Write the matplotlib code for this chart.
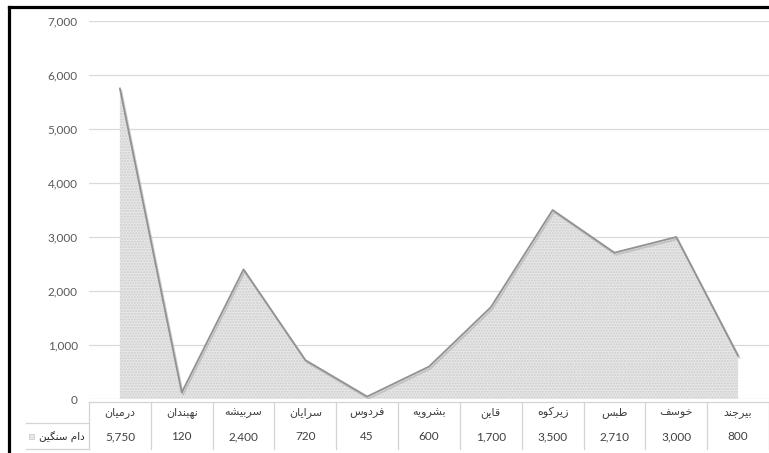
import matplotlib.pyplot as plt
import matplotlib.patheffects as pe
from matplotlib.lines import Line2D
from matplotlib.patches import Rectangle
from matplotlib.ticker import FuncFormatter

plt.rcParams['font.family'] = ['Lato', 'DejaVu Sans']

series_name = "دام سنگین"
categories = ["درمیان", "نهبندان", "سربیشه", "سرایان", "فردوس", "بشرویه",
              "قاین", "زیرکوه", "طبس", "خوسف", "بیرجند"]
values = [5750, 120, 2400, 720, 45, 600, 1700, 3500, 2710, 3000, 800]
y_ticks = [0, 1000, 2000, 3000, 4000, 5000, 6000, 7000]

# presentation forms: isolated, final, initial, medial
FORMS = {
    "ا": ("\uFE8D", "\uFE8E"),
    "ب": ("\uFE8F", "\uFE90", "\uFE91", "\uFE92"),
    "ج": ("\uFE9D", "\uFE9E", "\uFE9F", "\uFEA0"),
    "خ": ("\uFEA5", "\uFEA6", "\uFEA7", "\uFEA8"),
    "د": ("\uFEA9", "\uFEAA"),
    "ر": ("\uFEAD", "\uFEAE"),
    "ز": ("\uFEAF", "\uFEB0"),
    "س": ("\uFEB1", "\uFEB2", "\uFEB3", "\uFEB4"),
    "ش": ("\uFEB5", "\uFEB6", "\uFEB7", "\uFEB8"),
    "ط": ("\uFEC1", "\uFEC2", "\uFEC3", "\uFEC4"),
    "ف": ("\uFED1", "\uFED2", "\uFED3", "\uFED4"),
    "ق": ("\uFED5", "\uFED6", "\uFED7", "\uFED8"),
    "ک": ("\uFB8E", "\uFB8F", "\uFB90", "\uFB91"),
    "گ": ("\uFB92", "\uFB93", "\uFB94", "\uFB95"),
    "م": ("\uFEE1", "\uFEE2", "\uFEE3", "\uFEE4"),
    "ن": ("\uFEE5", "\uFEE6", "\uFEE7", "\uFEE8"),
    "ه": ("\uFEE9", "\uFEEA", "\uFEEB", "\uFEEC"),
    "و": ("\uFEED", "\uFEEE"),
    "ی": ("\uFBFC", "\uFBFD", "\uFBFE", "\uFBFF"),
}


def shape(text):
    # matplotlib has no arabic shaping, so pick joined forms and reverse
    out = []
    n = len(text)
    for i, ch in enumerate(text):
        forms = FORMS.get(ch)
        if forms is None:
            out.append(ch)
            continue
        prev_joins = i > 0 and len(FORMS.get(text[i - 1], ())) == 4
        next_joins = i < n - 1 and text[i + 1] in FORMS and len(forms) == 4
        if prev_joins and next_joins:
            out.append(forms[3])
        elif prev_joins:
            out.append(forms[1])
        elif next_joins:
            out.append(forms[2])
        else:
            out.append(forms[0])
    return "".join(reversed(out))


W, H = 769, 453
fig = plt.figure(figsize=(W / 100, H / 100), dpi=100)

left, right = 89, 769
y0, y7 = 399, 21
ax = fig.add_axes([left / W, 1 - y0 / H, (right - left) / W, (y0 - y7) / H])
x = list(range(len(categories)))

ax.fill_between(x, values, 0, facecolor="#e7e7e7", edgecolor="#cdcdcd",
                hatch="......", linewidth=0, zorder=2)
ax.plot(x, values, color="#929292", lw=1.3, zorder=3,
        path_effects=[pe.SimpleLineShadow(offset=(1, -1.5), shadow_color="#b0b0b0", alpha=0.6),
                      pe.Normal()])

ax.set_xlim(-0.5, len(categories) - 0.5)
ax.set_ylim(0, 7000)
ax.set_yticks(y_ticks)
ax.yaxis.set_major_formatter(FuncFormatter(lambda v, p: f"{int(v):,}"))
ax.tick_params(axis="y", length=0, pad=8, labelsize=8.5, labelcolor="#595959")
ax.set_xticks([])
ax.grid(axis="y", color="#dadada", lw=0.9, zorder=0)
for s in ax.spines.values():
    s.set_visible(False)

# data table under the plot
tab = fig.add_axes([left / W, 0, (right - left) / W, (H - y0) / H], sharex=ax)
tab.set_ylim(H, y0)
tab.axis("off")
row_top, row_mid, row_bot = 402, 423, 449
line_kw = dict(color="#d4d4d4", lw=0.9, clip_on=False)
tab.plot([-0.5, len(categories) - 0.5], [row_top, row_top], **line_kw)
for k in range(len(categories) + 1):
    tab.plot([k - 0.5, k - 0.5], [row_top, row_bot], **line_kw)
for i, (cat, val) in enumerate(zip(categories, values)):
    tab.text(i, (row_top + row_mid) / 2, shape(cat), ha="center", va="center",
             fontsize=8, color="#404040", family="DejaVu Sans")
    tab.text(i, (row_mid + row_bot) / 2 + 1, f"{val:,}", ha="center", va="center",
             fontsize=8.5, color="#404040")

# left header column of the table, in figure pixels
for yy in (row_mid, row_bot):
    fig.add_artist(Line2D([26 / W, left / W], [1 - yy / H, 1 - yy / H],
                          color="#d4d4d4", lw=0.9))
fig.add_artist(Rectangle((29 / W, 1 - 439 / H), 5 / W, 5 / H,
                         facecolor="#e6e6e6", edgecolor="#c8c8c8", lw=0.5))
fig.text(85 / W, 1 - 437 / H, shape(series_name), ha="right", va="center",
         fontsize=7.5, color="#262626", family="DejaVu Sans")

# black frame edges of the screenshot
fig.add_artist(Line2D([9 / W, 1], [1 - 7 / H, 1 - 7 / H], color="black", lw=2.3))
fig.add_artist(Line2D([9 / W, 9 / W], [0, 1 - 7 / H], color="black", lw=2.3))

fig.savefig("out.png", dpi=100)
